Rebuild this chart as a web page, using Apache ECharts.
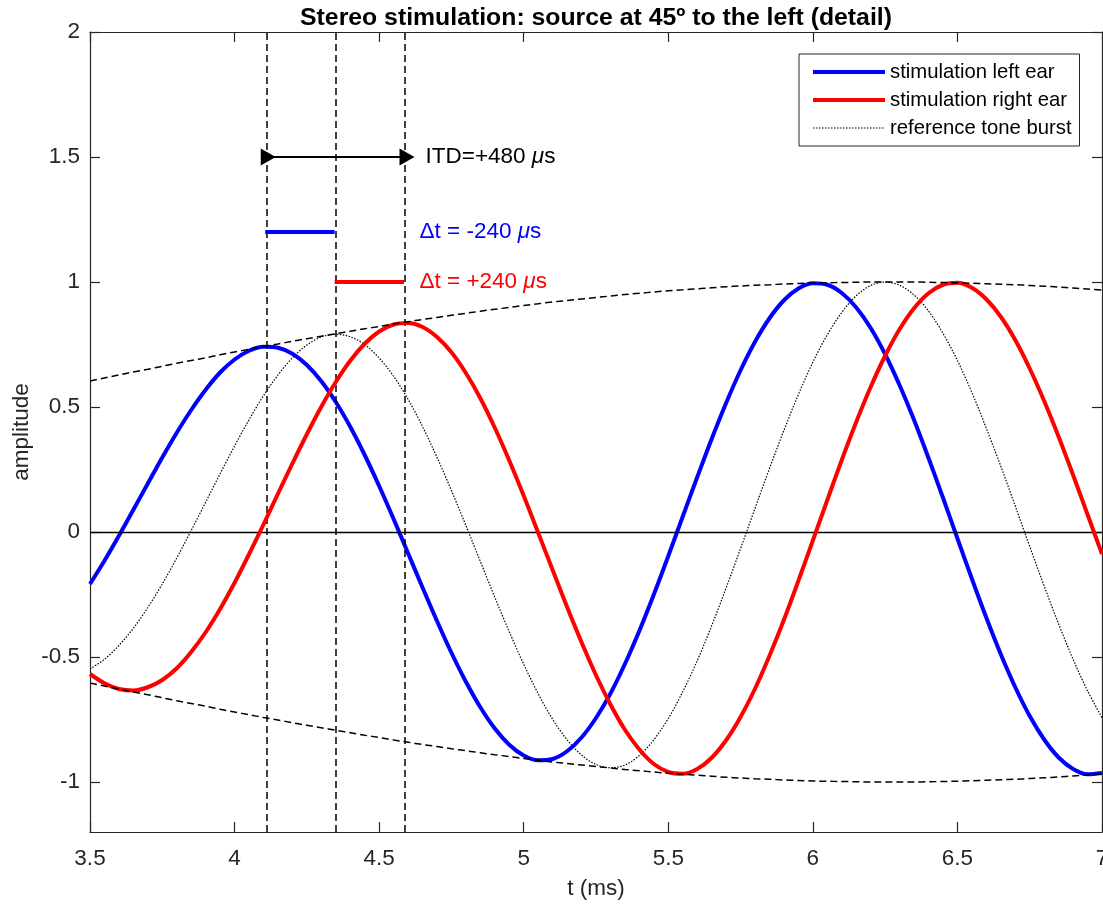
<!DOCTYPE html>
<html>
<head>
<meta charset="utf-8">
<script src="https://cdn.jsdelivr.net/npm/echarts@6/dist/echarts.min.js"></script>
<style>
  html, body { margin: 0; padding: 0; background: #fff; }
  #chart { width: 1103px; height: 904px; }
</style>
</head>
<body>
<div id="chart"></div>
<script>
// Time samples (ms)
const tMs = [3.5, 3.55, 3.6, 3.65, 3.7, 3.75, 3.8, 3.85, 3.9, 3.95, 4.0, 4.05, 4.1, 4.15, 4.2, 4.25, 4.3, 4.35,
             4.4, 4.45, 4.5, 4.55, 4.6, 4.65, 4.7, 4.75, 4.8, 4.85, 4.9, 4.95, 5.0, 5.05, 5.1, 5.15, 5.2, 5.25,
             5.3, 5.35, 5.4, 5.45, 5.5, 5.55, 5.6, 5.65, 5.7, 5.75, 5.8, 5.85, 5.9, 5.95, 6.0, 6.05, 6.1, 6.15,
             6.2, 6.25, 6.3, 6.35, 6.4, 6.45, 6.5, 6.55, 6.6, 6.65, 6.7, 6.75, 6.8, 6.85, 6.9, 6.95, 7.0];
// Signal at the left ear (leads by 240 us)
const leftEar = [-0.208, -0.115, -0.015, 0.089, 0.194, 0.298, 0.397, 0.488, 0.569, 0.638, 0.690, 0.725,
                 0.741, 0.737, 0.713, 0.668, 0.603, 0.520, 0.421, 0.308, 0.184, 0.052, -0.085, -0.222,
                 -0.356, -0.483, -0.599, -0.701, -0.786, -0.851, -0.894, -0.913, -0.908, -0.877, -0.822, -0.744,
                 -0.646, -0.528, -0.395, -0.250, -0.096, 0.062, 0.219, 0.372, 0.516, 0.647, 0.761, 0.855,
                 0.927, 0.974, 0.995, 0.989, 0.956, 0.898, 0.816, 0.711, 0.587, 0.448, 0.296, 0.137,
                 -0.026, -0.187, -0.343, -0.489, -0.621, -0.736, -0.830, -0.902, -0.948, -0.969, -0.964];
// Signal at the right ear (lags by 240 us)
const rightEar = [-0.568, -0.605, -0.628, -0.634, -0.621, -0.592, -0.545, -0.480, -0.401, -0.308, -0.203, -0.089,
                  0.030, 0.153, 0.274, 0.391, 0.501, 0.600, 0.685, 0.753, 0.802, 0.830, 0.836, 0.820,
                  0.780, 0.719, 0.636, 0.535, 0.417, 0.286, 0.145, -0.003, -0.152, -0.300, -0.441, -0.573,
                  -0.690, -0.791, -0.870, -0.928, -0.960, -0.967, -0.948, -0.903, -0.833, -0.740, -0.627, -0.495,
                  -0.351, -0.195, -0.034, 0.128, 0.288, 0.440, 0.580, 0.705, 0.811, 0.895, 0.955, 0.989,
                  0.997, 0.977, 0.931, 0.861, 0.768, 0.654, 0.524, 0.381, 0.228, 0.070, -0.088];
// Reference (centred) tone burst
const referenceTone = [-0.548, -0.509, -0.454, -0.385, -0.302, -0.208, -0.104, 0.006, 0.119, 0.233, 0.344, 0.449,
                       0.545, 0.628, 0.697, 0.748, 0.780, 0.791, 0.781, 0.750, 0.696, 0.623, 0.531, 0.422,
                       0.299, 0.166, 0.026, -0.118, -0.261, -0.399, -0.529, -0.647, -0.749, -0.831, -0.892, -0.930,
                       -0.943, -0.932, -0.894, -0.831, -0.746, -0.639, -0.515, -0.375, -0.224, -0.066, 0.095, 0.254,
                       0.407, 0.550, 0.679, 0.789, 0.878, 0.945, 0.986, 1.000, 0.987, 0.948, 0.884, 0.795,
                       0.686, 0.558, 0.415, 0.263, 0.104, -0.058, -0.216, -0.368, -0.509, -0.635, -0.743];
// Burst envelope (upper half; the lower half mirrors it)
const envelope = [0.604, 0.616, 0.628, 0.640, 0.651, 0.663, 0.675, 0.686, 0.697, 0.709, 0.720, 0.731,
                  0.742, 0.752, 0.763, 0.773, 0.783, 0.793, 0.803, 0.813, 0.822, 0.832, 0.841, 0.850,
                  0.858, 0.867, 0.875, 0.883, 0.891, 0.898, 0.906, 0.913, 0.920, 0.926, 0.932, 0.938,
                  0.944, 0.950, 0.955, 0.960, 0.965, 0.969, 0.973, 0.977, 0.981, 0.984, 0.987, 0.989,
                  0.992, 0.994, 0.996, 0.997, 0.998, 0.999, 1.000, 1.000, 1.000, 1.000, 0.999, 0.998,
                  0.997, 0.995, 0.993, 0.991, 0.989, 0.986, 0.983, 0.980, 0.976, 0.972, 0.968];

// Peak times of left / reference / right (ms) and annotation levels
const itdMarks = [4.106, 4.346, 4.586];
const itdLevel = 1.5;
const leftShiftLevel = 1.2;
const rightShiftLevel = 1.0;

// Ticks
const xTicks = [3.5, 4, 4.5, 5, 5.5, 6, 6.5, 7];
const yTicks = [-1, -0.5, 0, 0.5, 1, 1.5, 2];

const seriesNames = ['stimulation left ear', 'stimulation right ear', 'reference tone burst'];
const annotationTexts = ['ITD=+480 {mu|\u03bc}s', '\u0394t = -240 {mu|\u03bc}s', '\u0394t = +240 {mu|\u03bc}s'];

const FONT = "'Liberation Sans', Arial, Helvetica, sans-serif";
const AXIS_COLOR = '#262626';
const AXIS_FS = 22.5;
const SMOOTH = 0.33;

const pairs = (ys) => tMs.map((t, i) => [t, ys[i]]);
const lowerEnvelope = envelope.map(v => -v);

const chart = echarts.init(document.getElementById('chart'), null, { renderer: 'canvas' });

const axisLineStyle = { color: AXIS_COLOR, width: 1.2 };
const dashed = [7, 4];

const annotationLabel = (text, color, distance) => ({
  show: true, position: 'right', distance: distance, formatter: text,
  color: color, opacity: 1, fontSize: AXIS_FS, fontFamily: FONT,
  rich: { mu: { fontStyle: 'italic', fontSize: AXIS_FS, fontFamily: FONT, color: color } }
});

const option = {
  animation: false,
  backgroundColor: '#fff',
  title: {
    text: 'Stereo stimulation: source at 45\u00ba to the left (detail)',
    left: 596,
    top: 6,
    padding: 0,
    textAlign: 'center',
    textStyle: { fontSize: 24.8, fontWeight: 'bold', color: '#000', fontFamily: FONT }
  },
  legend: {
    data: seriesNames,
    orient: 'vertical',
    left: 799,
    top: 54,
    padding: [8, 8, 8, 12],
    itemWidth: 72,
    itemHeight: 20,
    itemGap: 8,
    backgroundColor: '#fff',
    borderColor: AXIS_COLOR,
    borderWidth: 1,
    borderRadius: 0,
    itemStyle: { opacity: 0 },
    lineStyle: { width: 'inherit' },
    textStyle: { fontSize: 20.3, color: '#000', fontFamily: FONT, lineHeight: 20 }
  },
  grid: { left: 90, right: 1, top: 32, bottom: 72, containLabel: false, outerBoundsMode: 'none' },
  xAxis: [
    {
      type: 'value', min: xTicks[0], max: xTicks[xTicks.length - 1], interval: 0.5, position: 'bottom',
      axisLine: { show: true, onZero: false, lineStyle: axisLineStyle },
      axisTick: { show: true, inside: true, length: 10, lineStyle: axisLineStyle },
      axisLabel: { show: true, fontSize: AXIS_FS, color: AXIS_COLOR, fontFamily: FONT, margin: 15,
                   showMinLabel: true, showMaxLabel: true, hideOverlap: false },
      splitLine: { show: false },
      name: 't (ms)', nameLocation: 'middle', nameGap: 45, nameMoveOverlap: false,
      nameTextStyle: { fontSize: AXIS_FS, color: AXIS_COLOR, fontFamily: FONT }
    },
    {
      type: 'value', min: xTicks[0], max: xTicks[xTicks.length - 1], interval: 0.5, position: 'top',
      axisLine: { show: true, onZero: false, lineStyle: axisLineStyle },
      axisTick: { show: true, inside: true, length: 10, lineStyle: axisLineStyle },
      axisLabel: { show: false },
      splitLine: { show: false }
    }
  ],
  yAxis: [
    {
      type: 'value', min: -1.2, max: 2, position: 'left',
      axisLine: { show: true, onZero: false, lineStyle: axisLineStyle },
      axisTick: { show: true, inside: true, length: 10, lineStyle: axisLineStyle, customValues: yTicks },
      axisLabel: { show: true, fontSize: AXIS_FS, color: AXIS_COLOR, fontFamily: FONT, margin: 10,
                   customValues: yTicks, showMinLabel: true, showMaxLabel: true },
      splitLine: { show: false },
      name: 'amplitude', nameLocation: 'middle', nameGap: 57, nameRotate: 90, nameMoveOverlap: false,
      nameTextStyle: { fontSize: AXIS_FS, color: AXIS_COLOR, fontFamily: FONT }
    },
    {
      type: 'value', min: -1.2, max: 2, position: 'right',
      axisLine: { show: true, onZero: false, lineStyle: axisLineStyle },
      axisTick: { show: true, inside: true, length: 10, lineStyle: axisLineStyle, customValues: yTicks },
      axisLabel: { show: false },
      splitLine: { show: false }
    }
  ],
  series: [
    {
      name: 'envelope upper', type: 'line', data: pairs(envelope), smooth: SMOOTH, symbol: 'none',
      silent: true, z: 6,
      lineStyle: { color: '#000', width: 1.5, type: dashed },
      markLine: {
        silent: true, symbol: 'none', label: { show: false },
        data: [
          { yAxis: 0, lineStyle: { color: '#000', width: 1.3, type: 'solid' } },
          { xAxis: itdMarks[0], lineStyle: { color: '#000', width: 1.5, type: dashed } },
          { xAxis: itdMarks[1], lineStyle: { color: '#000', width: 1.5, type: dashed } },
          { xAxis: itdMarks[2], lineStyle: { color: '#000', width: 1.5, type: dashed } }
        ]
      }
    },
    {
      name: 'envelope lower', type: 'line', data: pairs(lowerEnvelope), smooth: SMOOTH, symbol: 'none',
      silent: true, z: 6,
      lineStyle: { color: '#000', width: 1.5, type: dashed }
    },
    {
      name: seriesNames[2], type: 'line', data: pairs(referenceTone), smooth: SMOOTH, symbol: 'none',
      z: 3, color: '#000',
      lineStyle: { color: '#000', width: 1.2, type: [1.5, 1.5] }
    },
    {
      name: seriesNames[0], type: 'line', data: pairs(leftEar), smooth: SMOOTH, symbol: 'none',
      z: 4, color: '#0000ff',
      lineStyle: { color: '#0000ff', width: 4 }
    },
    {
      name: seriesNames[1], type: 'line', data: pairs(rightEar), smooth: SMOOTH, symbol: 'none',
      z: 5, color: '#ff0000',
      lineStyle: { color: '#ff0000', width: 4 }
    },
    {
      name: 'itd arrow', type: 'line', silent: true, z: 7,
      data: [[itdMarks[0], itdLevel], [itdMarks[2], itdLevel]],
      symbol: 'triangle', symbolSize: [17, 15], symbolRotate: -90, symbolOffset: [3, 0],
      showSymbol: true, showAllSymbol: true,
      itemStyle: { color: '#000' },
      lineStyle: { color: '#000', width: 2 }
    },
    {
      name: 'left shift', type: 'line', silent: true, z: 7, symbol: 'none',
      data: [[itdMarks[0], leftShiftLevel], [itdMarks[1], leftShiftLevel]],
      lineStyle: { color: '#0000ff', width: 4 }
    },
    {
      name: 'right shift', type: 'line', silent: true, z: 7, symbol: 'none',
      data: [[itdMarks[1], rightShiftLevel], [itdMarks[2], rightShiftLevel]],
      lineStyle: { color: '#ff0000', width: 4 }
    },
    {
      name: 'annotations', type: 'scatter', silent: true, z: 8,
      symbolSize: 1, itemStyle: { color: 'rgba(0,0,0,0)', opacity: 1 },
      data: [
        { value: [itdMarks[2], itdLevel], label: annotationLabel(annotationTexts[0], '#000', 21) },
        { value: [itdMarks[2], leftShiftLevel], label: annotationLabel(annotationTexts[1], '#0000ff', 15) },
        { value: [itdMarks[2], rightShiftLevel], label: annotationLabel(annotationTexts[2], '#ff0000', 15) }
      ]
    }
  ]
};

chart.setOption(option);
</script>
</body>
</html>
